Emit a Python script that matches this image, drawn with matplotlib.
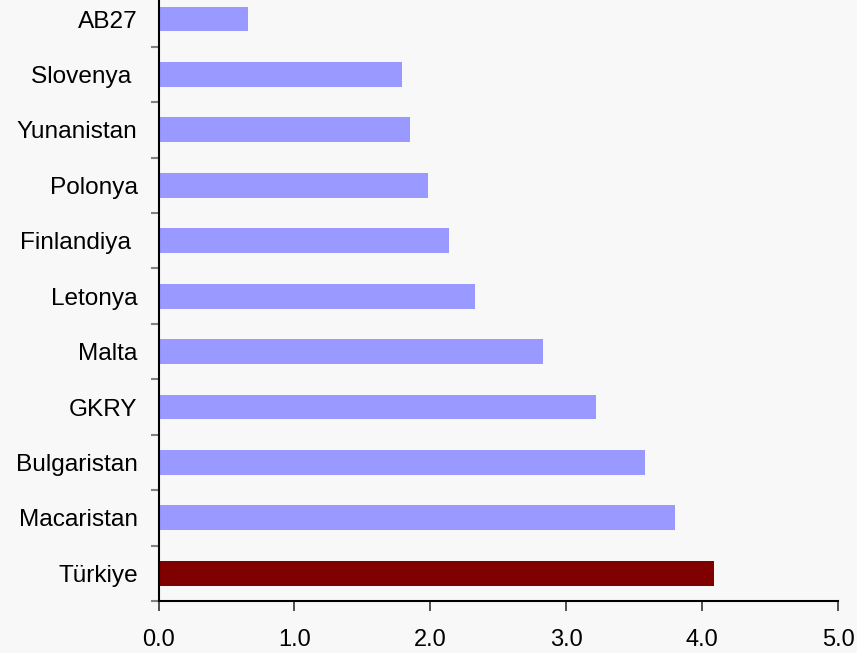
import matplotlib
matplotlib.use("Agg")
import matplotlib.pyplot as plt
import numpy as np

countries = ["AB27", "Slovenya ", "Yunanistan", "Polonya", "Finlandiya ", "Letonya",
             "Malta", "GKRY", "Bulgaristan", "Macaristan", "Türkiye"]
values = [0.66, 1.79, 1.85, 1.98, 2.14, 2.33, 2.83, 3.22, 3.58, 3.80, 4.09]
bar_colors = ["#9999ff"] * 10 + ["#800000"]
x_ticks = [0, 1, 2, 3, 4, 5]
x_labels = ["0.0", "1.0", "2.0", "3.0", "4.0", "5.0"]

W, H = 857, 653
bg = "#f8f8f8"
plt.rcParams["font.family"] = ["Liberation Sans", "DejaVu Sans"]

fig = plt.figure(figsize=(W / 100, H / 100), dpi=100, facecolor=bg)
left, right = 158.5 / W, 838 / W
bottom = 1 - 601 / H
top = 1 + 8.7 / H
ax = fig.add_axes([left, bottom, right - left, top - bottom], facecolor=bg)

pos = np.arange(len(countries))
ax.barh(pos, values, height=0.45, color=bar_colors, zorder=2)

ax.set_xlim(0, 5)
ax.set_ylim(len(countries) - 0.5, -0.5)

ax.set_xticks(x_ticks)
ax.set_xticklabels(x_labels, fontsize=17)
ax.tick_params(axis="x", direction="out", length=7, width=1.2, color="#333333", pad=13)

# category boundaries carry the tick marks, category centres carry the labels
ax.set_yticks(np.arange(-0.5, len(countries) + 0.5, 1))
ax.set_yticklabels([])
ax.set_yticks(pos, minor=True)
ax.set_yticklabels(countries, minor=True, fontsize=17.6)
ax.tick_params(axis="y", which="major", direction="out", length=6, width=1.5, color="#808080")
ax.tick_params(axis="y", which="minor", length=0, pad=15)

for s in ["top", "right"]:
    ax.spines[s].set_visible(False)
ax.spines["left"].set_linewidth(1.5)
ax.spines["bottom"].set_linewidth(1.5)
ax.spines["left"].set_color("black")
ax.spines["bottom"].set_color("black")

fig.savefig("out.png", dpi=100, facecolor=bg)
